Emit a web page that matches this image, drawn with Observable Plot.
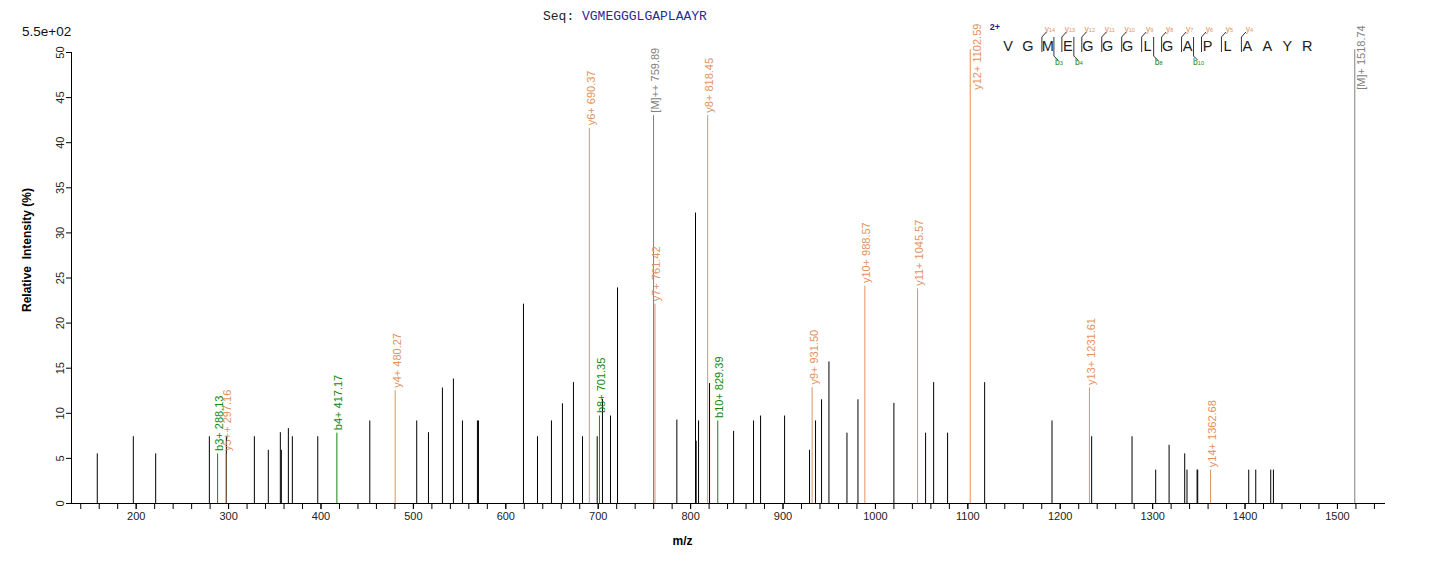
<!DOCTYPE html>
<html><head><meta charset="utf-8">
<script src="https://cdn.jsdelivr.net/npm/d3@7"></script>
<script src="https://cdn.jsdelivr.net/npm/@observablehq/plot@0.6"></script>
<style>body{margin:0;background:#fff;} #chart svg{display:block;}</style>
</head><body><div id="chart"></div>
<script>
// ---- data ----
const otherMz = [157.9,196.9,221.1,279.2,297.6,327.9,343.0,356.0,357.1,364.7,369.0,396.5,452.8,503.6,516.3,531.4,543.3,553.1,569.3,570.4,619.1,634.3,649.4,661.3,673.2,683.0,698.9,704.6,713.3,720.9,785.1,805.3,806.0,808.6,820.5,846.5,868.1,875.7,901.7,928.7,935.2,941.7,949.7,969.2,981.1,1020.0,1054.3,1063.0,1078.1,1118.2,1191.1,1234.0,1277.7,1303.3,1317.8,1334.7,1337.2,1348.1,1348.8,1404.0,1411.6,1427.8,1430.7];
const otherIntensity = [5.5,7.4,5.5,7.4,7.4,7.4,5.9,7.85,5.9,8.3,7.4,7.4,9.15,9.15,7.85,12.8,13.8,9.15,9.15,9.15,22.1,7.4,9.15,11.05,13.4,7.4,7.4,11.55,9.7,23.9,9.25,32.2,6.9,9.15,13.3,8.0,9.15,9.7,9.7,5.9,9.15,11.5,15.7,7.8,11.5,11.1,7.8,13.4,7.8,13.4,9.15,7.4,7.4,3.7,6.45,5.5,3.7,3.7,3.7,3.7,3.7,3.7,3.7];

const yIonNames = ["y4+","y5++","y6+","y7+","y8+","y9+","y10+","y11+","y12+","y13+","y14+"];
const yIonMz = [480.27,297.16,690.37,761.42,818.45,931.50,988.57,1045.57,1102.59,1231.61,1362.68];
const yIonIntensity = [12.5,5.5,41.6,22.1,43.0,12.85,24.1,23.8,50.3,12.8,3.7];

const bIonNames = ["b3+","b4+","b8+","b10+"];
const bIonMz = [288.13,417.17,701.35,829.39];
const bIonIntensity = [5.5,7.8,9.7,9.15];

const precursorNames = ["[M]++","[M]+"];
const precursorMz = [759.89,1518.74];
const precursorIntensity = [43.0,50.3];

const sequence = "VGMEGGGLGAPLAAYR";
const chargeLabel = "2+";
const yFragmentsShown = [14,13,12,11,10,9,8,7,6,5,4];
const bFragmentsShown = [3,4,8,10];
const xMajorTicks = d3.range(200, 1501, 100);
const xMinorTicks = d3.range(140, 1551, 20);
const yTicks = d3.range(0, 51, 5);
const scaleLabel = "5.5e+02";
const xLabel = "m/z";
const yLabel = "Relative\u00a0\u00a0Intensity (%)";

// ---- styles ----
const ORANGE = "#E3915D", GREEN = "#118811", GRAY = "#808080";
const rows = (mz, inten, names, color) => mz.map((m, i) => ({
  mz: m, intensity: inten[i], label: `${names[i]} ${m.toFixed(2)}`, color
}));
const ions = [
  ...rows(yIonMz, yIonIntensity, yIonNames, ORANGE),
  ...rows(bIonMz, bIonIntensity, bIonNames, GREEN),
  ...rows(precursorMz, precursorIntensity, precursorNames, GRAY)
];
const others = otherMz.map((m, i) => ({mz: m, intensity: otherIntensity[i]}));
const yMax = 50;
const topLabelLimit = 47; // labels of peaks reaching the top are drawn beside the line
const normalLabels = ions.filter(d => d.intensity <= topLabelLimit);
const sideLabels = ions.filter(d => d.intensity > topLabelLimit);

const FONT = "Liberation Sans, Arial, sans-serif";

const chart = Plot.plot({
  width: 1436, height: 562,
  marginTop: 52, marginBottom: 59, marginLeft: 71, marginRight: 51,
  x: {domain: [130, 1552], axis: null},
  y: {domain: [0, yMax], axis: null},
  color: {type: "identity"},
  style: {fontFamily: FONT, fontSize: "11px", background: "#fff", color: "#000", overflow: "visible"},
  marks: [
    Plot.axisX({ticks: xMinorTicks, tickSize: 6, tickFormat: () => "", label: null}),
    Plot.axisX({ticks: xMajorTicks, tickSize: 6, tickPadding: 3, label: null, fontSize: 11,
      tickFormat: d => String(d), fill: "#222"}),
    Plot.axisY({ticks: yTicks, tickSize: 5, tickFormat: () => "", label: null}),
    Plot.text(yTicks, {y: d => d, text: d => String(d), frameAnchor: "left", rotate: -90,
      textAnchor: "middle", lineAnchor: "bottom", dx: -8, fontSize: 11, fill: "#222"}),
    Plot.ruleY([0], {stroke: "#000"}),
    Plot.ruleX([130], {y1: 0, y2: yMax, stroke: "#000"}),
    Plot.ruleX(others, {x: "mz", y1: 0, y2: "intensity", stroke: "#000", strokeWidth: 1}),
    Plot.ruleX(ions, {x: "mz", y1: 0, y2: "intensity", stroke: "color", strokeWidth: 1}),
    Plot.text(normalLabels, {x: "mz", y: "intensity", text: "label", fill: "color", rotate: -90,
      textAnchor: "start", lineAnchor: "middle", dx: 2, dy: -3, fontSize: 11}),
    Plot.text(sideLabels, {x: "mz", y: "intensity", text: "label", fill: "color", rotate: -90,
      textAnchor: "start", lineAnchor: "middle", dx: 7, dy: 40, fontSize: 11}),
    Plot.text([xLabel], {frameAnchor: "bottom", textAnchor: "middle", lineAnchor: "middle",
      dx: -46, dy: 38, fontWeight: "bold", fontSize: 12}),
    Plot.text([yLabel], {frameAnchor: "left", rotate: -90, textAnchor: "middle", lineAnchor: "middle",
      dx: -44, dy: -28, fontWeight: "bold", fontSize: 12})
  ]
});
document.getElementById("chart").append(chart);

// ---- header decorations ----
const svg = d3.select(chart);
svg.append("text").attr("x", 22).attr("y", 36).attr("text-anchor", "start").attr("font-family", FONT)
  .attr("font-size", 13.5).attr("fill", "#111").text(scaleLabel);

const seqT = svg.append("text").attr("x", 543).attr("y", 19.5).attr("text-anchor", "start")
  .attr("font-family", "Liberation Mono, Courier New, monospace").attr("font-size", 13)
  .style("white-space", "pre");
seqT.append("tspan").attr("fill", "#222").text("Seq: ");
seqT.append("tspan").attr("fill", "#2a2a96").text(sequence);

const hg = svg.append("g").attr("font-family", FONT);
const cx = i => 1008 + i * 19.95;
hg.append("text").attr("x", 995).attr("y", 30).attr("text-anchor", "middle")
  .attr("font-size", 9).attr("font-weight", "bold").attr("fill", "#1a1a8c").text(chargeLabel);
sequence.split("").forEach((ch, i) => {
  hg.append("text").attr("x", cx(i)).attr("y", 51).attr("text-anchor", "middle")
    .attr("font-size", 14.5).attr("fill", "#222").text(ch);
});
yFragmentsShown.forEach(n => {
  const k = sequence.length - n;
  const x = cx(k) - 6;
  hg.append("path").attr("d", `M${x},52V37l4.5,-5`).attr("fill", "none").attr("stroke", "#333").attr("stroke-width", 1);
  const t = hg.append("text").attr("x", cx(k) + 2).attr("y", 32).attr("text-anchor", "middle")
    .attr("fill", ORANGE).attr("font-size", 8.5);
  t.append("tspan").text("y");
  t.append("tspan").attr("font-size", 5.5).text(n);
});
bFragmentsShown.forEach(n => {
  const i = n - 1;
  const x = cx(i) + 6;
  hg.append("path").attr("d", `M${x},37V56l4,4`).attr("fill", "none").attr("stroke", "#333").attr("stroke-width", 1);
  const t = hg.append("text").attr("x", x + 5).attr("y", 65).attr("text-anchor", "middle")
    .attr("fill", GREEN).attr("font-size", 8.5);
  t.append("tspan").text("b");
  t.append("tspan").attr("font-size", 5.5).text(n);
});
</script></body></html>
